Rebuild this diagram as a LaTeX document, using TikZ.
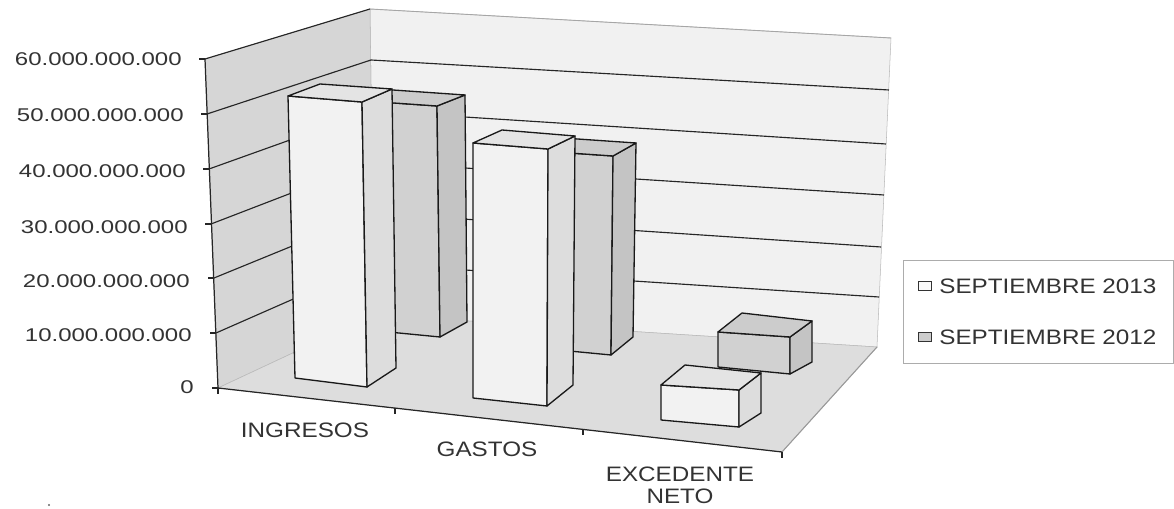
\documentclass[tikz,border=0pt]{standalone}
\usepackage{fontspec}
\setmainfont{Liberation Sans}[FakeStretch=1.16]
\newfontfamily\tickfont{Liberation Sans}[FakeStretch=1.3]

\begin{document}
\begin{tikzpicture}[
   x=0.02cm, y=-0.02cm,
   wall/.style={draw=gray!55, line width=0.3pt},
   grid/.style={draw=black!85, line width=0.65pt},
   axis/.style={draw=black!85, line width=0.7pt},
   bar/.style={draw=black!90, line width=0.75pt, line join=round},
   front13/.style={bar, fill=gray!10},
   side13/.style={bar, fill=gray!27},
   top13/.style={bar, fill=gray!21},
   front12/.style={bar, fill=gray!36},
   side12/.style={bar, fill=gray!46},
   top12/.style={bar, fill=gray!40},
   value/.style={anchor=east, inner sep=0pt, text=black!80, font=\tickfont\fontsize{10.5}{12}\selectfont},
   cat/.style={inner sep=0pt, text=black!80, align=center, font=\fontsize{11.9}{12.5}\selectfont},
   swatch/.style={draw=black!80, line width=0.5pt, minimum width=7pt, minimum height=5.5pt, inner sep=0pt}
]
\useasboundingbox (0,0) rectangle (1174,509);

% Walls and floor
\filldraw[wall, fill=gray!11] (370,9) -- (891,38) -- (877,347) -- (374,315) -- cycle;
\filldraw[wall, fill=gray!32] (205,59) -- (370,9) -- (374,315) -- (218,388) -- cycle;
\filldraw[wall, fill=gray!27] (218,388) -- (374,315) -- (877,347) -- (782,452) -- cycle;
\draw[draw=gray!70, line width=0.5pt] (370,9) -- (891,38);
\draw[draw=gray!80, line width=0.6pt] (877,347) -- (782,452);

% Gridlines
\draw[grid] (216,333) -- (373,264) -- (879,297);
\draw[grid] (214,278) -- (373,213) -- (881,247);
\draw[grid] (211,224) -- (372,162) -- (884,195);
\draw[grid] (209,169) -- (371,111) -- (886,144);
\draw[grid] (207,114) -- (371,60) -- (889,90);
\draw[grid] (205,59) -- (370,9);

% Axes and ticks
\draw[axis] (205,59) -- (218,388) -- (782,452);
\draw[axis] (199,59) -- (205,59);
\draw[axis] (201,114) -- (207,114);
\draw[axis] (203,169) -- (209,169);
\draw[axis] (205,224) -- (211,224);
\draw[axis] (208,278) -- (214,278);
\draw[axis] (210,333) -- (216,333);
\draw[axis] (212,388) -- (218,388);
\draw[axis] (218,388) -- (218,394);
\draw[axis] (395,408) -- (395,414);
\draw[axis] (583,429) -- (583,435);
\draw[axis] (782,452) -- (782,458);

% Bars SEPTIEMBRE 2012
\filldraw[front12] (365,101) -- (437,106) -- (440,337) -- (368,330) -- cycle;
\filldraw[side12] (437,106) -- (465,95) -- (467,322) -- (440,337) -- cycle;
\filldraw[top12] (365,101) -- (437,106) -- (465,95) -- (393,90) -- cycle;
\filldraw[front12] (540,151) -- (613,156) -- (611,355) -- (538,348) -- cycle;
\filldraw[side12] (613,156) -- (636,143) -- (633,337) -- (611,355) -- cycle;
\filldraw[top12] (540,151) -- (613,156) -- (636,143) -- (563,138) -- cycle;
\filldraw[front12] (718,332) -- (790,337) -- (790,374) -- (718,367) -- cycle;
\filldraw[side12] (790,337) -- (812,321) -- (812,362) -- (790,374) -- cycle;
\filldraw[top12] (718,332) -- (790,337) -- (812,321) -- (742,313) -- cycle;

% Bars SEPTIEMBRE 2013
\filldraw[front13] (288,96) -- (362,102) -- (367,387) -- (295,378) -- cycle;
\filldraw[side13] (362,102) -- (392,89) -- (396,368) -- (367,387) -- cycle;
\filldraw[top13] (288,96) -- (362,102) -- (392,89) -- (320,84) -- cycle;
\filldraw[front13] (473,143) -- (548,149) -- (547,406) -- (473,398) -- cycle;
\filldraw[side13] (548,149) -- (575,136) -- (573,385) -- (547,406) -- cycle;
\filldraw[top13] (473,143) -- (548,149) -- (575,136) -- (502,130) -- cycle;
\filldraw[front13] (661,385) -- (739,390) -- (739,427) -- (661,420) -- cycle;
\filldraw[side13] (739,390) -- (761,373) -- (761,413) -- (739,427) -- cycle;
\filldraw[top13] (661,385) -- (739,390) -- (761,373) -- (685,365) -- cycle;

% Value labels
\node[value] (v60) at (182,59) {60.000.000.000};
\node[value] (v50) at (184,115) {50.000.000.000};
\node[value] (v40) at (186,171) {40.000.000.000};
\node[value] (v30) at (188,227) {30.000.000.000};
\node[value] (v20) at (190,281) {20.000.000.000};
\node[value] (v10) at (192,335) {10.000.000.000};
\node[value] (v0) at (194,387) {0};

% Category labels
\node[cat] (ing) at (305,430) {INGRESOS};
\node[cat] (gas) at (487,449) {GASTOS};
\node[cat] (exc) at (680,485) {EXCEDENTE\\NETO};

% Legend
\draw[wall, draw=gray!65] (903,260) rectangle (1173,363);
\node[swatch, fill=gray!5] (sw13) at (925,286) {};
\node[swatch, fill=gray!40] (sw12) at (925,337) {};
\node[cat, anchor=west] (t13) at (939,286) {SEPTIEMBRE 2013};
\node[cat, anchor=west] (t12) at (939,337) {SEPTIEMBRE 2012};

% Speck
\fill[black!60] (49,505) circle (1.2);
\end{tikzpicture}
\end{document}
